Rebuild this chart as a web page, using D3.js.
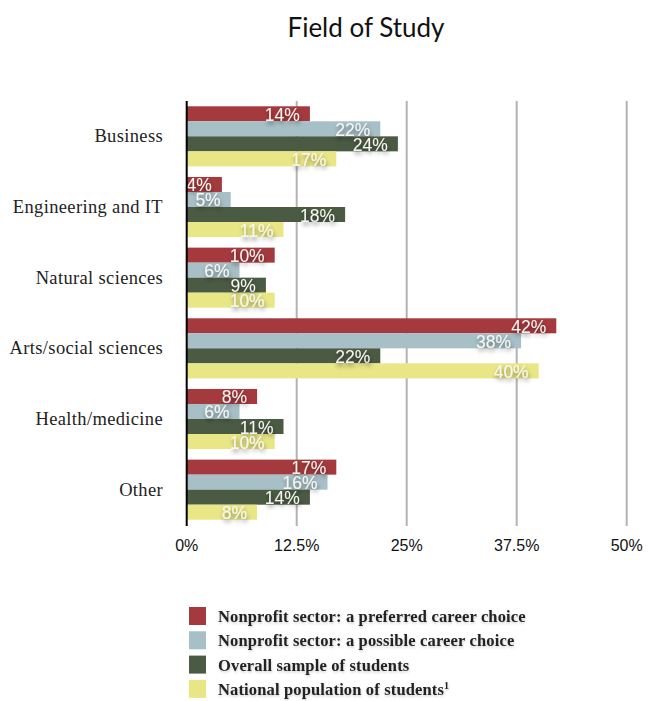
<!DOCTYPE html>
<html><head><meta charset="utf-8">
<script src="https://cdn.jsdelivr.net/npm/d3@7"></script>
<style>
body{margin:0;background:#fff;}
svg{display:block;}
</style></head>
<body>
<svg id="c" width="656" height="701"></svg>
<script>
const categories = ["Business","Engineering and IT","Natural sciences","Arts/social sciences","Health/medicine","Other"];
const seriesNames = ["Nonprofit sector: a preferred career choice","Nonprofit sector: a possible career choice","Overall sample of students","National population of students"];
const preferred = [14,4,10,42,8,17];
const possible = [22,5,6,38,6,16];
const overall = [24,18,9,22,11,14];
const national = [17,11,10,40,10,8];
const tickValues = [0,12.5,25,37.5,50];
const tickLabels = ["0%","12.5%","25%","37.5%","50%"];
const colors = ["#a53a3e","#a7bfc7","#4b5a43","#e8e685"];
const series = [preferred, possible, overall, national];

const svg = d3.select("#c");
const defs = svg.append("defs");
const f = defs.append("filter").attr("id","sh").attr("x","-20%").attr("y","-30%").attr("width","140%").attr("height","180%");
f.append("feDropShadow").attr("dx",1).attr("dy",3).attr("stdDeviation",2).attr("flood-color","#000").attr("flood-opacity",0.45);
const f2 = defs.append("filter").attr("id","sh2").attr("x","-5%").attr("y","-30%").attr("width","110%").attr("height","180%");
f2.append("feDropShadow").attr("dx",0.5).attr("dy",1.5).attr("stdDeviation",1).attr("flood-color","#000").attr("flood-opacity",0.2);

const x = d3.scaleLinear().domain([0,50]).range([186.7,626.7]);
const y0 = d3.scaleBand().domain(categories).range([101,525]).paddingInner(0).paddingOuter(0);
const y1 = d3.scaleBand().domain(d3.range(4)).range([5.3, y0.bandwidth()-5.3]);

// title
svg.append("text").attr("x",366).attr("y",37).attr("text-anchor","middle")
  .attr("font-family","Lato, 'Open Sans', sans-serif").attr("font-size",26).attr("fill","#111")
  .text("Field of Study");

// gridlines
svg.append("g").selectAll("line").data(tickValues.slice(1)).join("line")
  .attr("x1",d=>x(d)).attr("x2",d=>x(d)).attr("y1",101).attr("y2",526)
  .attr("stroke","#b3b3b3").attr("stroke-width",2);

// bars
const groups = svg.append("g").selectAll("g").data(categories).join("g")
  .attr("transform",c=>`translate(0,${y0(c)})`);
groups.each(function(c,i){
  const g = d3.select(this);
  series.forEach((s,k)=>{
    g.append("rect").attr("x",x(0)).attr("y",y1(k)).attr("width",x(s[i])-x(0)).attr("height",y1.bandwidth())
      .attr("fill",colors[k]);
  });
});
groups.each(function(c,i){
  const g = d3.select(this);
  series.forEach((s,k)=>{
    g.append("text").attr("x",x(s[i])-10).attr("y",y1(k)+y1.bandwidth()-0.5)
      .attr("text-anchor","end").attr("font-family","'Liberation Sans', Arial, sans-serif")
      .attr("font-size",17.5).attr("fill","#f7f7f2").attr("filter","url(#sh)")
      .text(s[i]+"%");
  });
});

// axis line
svg.append("line").attr("x1",x(0)).attr("x2",x(0)).attr("y1",101).attr("y2",526)
  .attr("stroke","#000").attr("stroke-width",2);

// x tick labels
svg.append("g").selectAll("text").data(tickValues).join("text")
  .attr("x",d=>x(d)).attr("y",551).attr("text-anchor","middle")
  .attr("font-family","'Liberation Sans', Arial, sans-serif").attr("font-size",16).attr("fill","#111")
  .text((d,i)=>tickLabels[i]);

// category labels
svg.append("g").selectAll("text").data(categories).join("text")
  .attr("x",163).attr("y",c=>y0(c)+y0.bandwidth()/2+6).attr("text-anchor","end")
  .attr("font-family","'Liberation Serif', 'Times New Roman', serif").attr("font-size",18.5)
  .attr("letter-spacing",0.35).attr("fill","#222")
  .text(c=>c);

// legend
const leg = svg.append("g").attr("transform","translate(189,607)");
seriesNames.forEach((n,k)=>{
  const r = leg.append("g").attr("transform",`translate(0,${k*24.3})`);
  r.append("rect").attr("width",17).attr("height",18).attr("fill",colors[k]);
  const t = r.append("text").attr("x",29).attr("y",15).attr("font-family","'Liberation Serif', 'Times New Roman', serif")
    .attr("font-size",16.5).attr("letter-spacing",0.15).attr("font-weight","bold").attr("fill","#222").attr("filter","url(#sh2)").text(n);
  if(k===3) t.append("tspan").attr("font-size",10).attr("dy",-6).text("1");
});
</script>
</body></html>
